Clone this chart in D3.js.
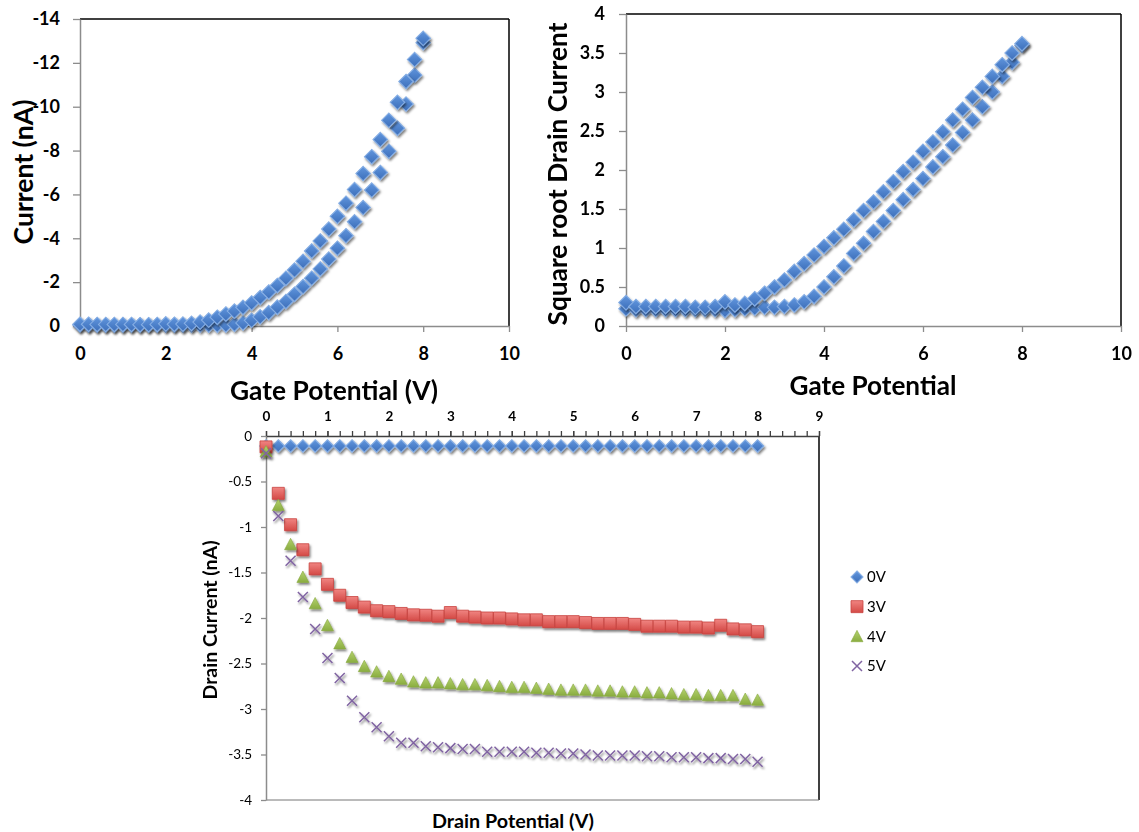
<!DOCTYPE html>
<html>
<head>
<meta charset="utf-8">
<script src="https://cdn.jsdelivr.net/npm/d3@7"></script>
<style>
  html, body { margin: 0; padding: 0; background: #fff; }
  svg { display: block; }
</style>
</head>
<body>
<svg id="chart" width="1139" height="832"></svg>
<script>
// ---------------- DATA ----------------
const gatePotential = [0,0.2,0.4,0.6,0.8,1,1.2,1.4,1.6,1.8,2,2.2,2.4,2.6,2.8,3,3.2,3.4,3.6,3.8,4,4.2,4.4,4.6,4.8,5,5.2,5.4,5.6,5.8,6,6.2,6.4,6.6,6.8,7,7.2,7.4,7.6,7.8,8];

// Top-left: current (nA), two sweep branches
const currentUpper = [-0.08,-0.08,-0.07,-0.07,-0.07,-0.07,-0.07,-0.06,-0.06,-0.07,-0.1,-0.08,-0.09,-0.12,-0.18,-0.27,-0.4,-0.55,-0.68,-0.85,-1.05,-1.3,-1.55,-1.85,-2.18,-2.55,-2.95,-3.42,-3.88,-4.42,-5.0,-5.6,-6.22,-6.95,-7.72,-8.5,-9.38,-10.2,-11.15,-12.15,-13.12];
const currentLower = [-0.05,-0.04,-0.04,-0.04,-0.04,-0.04,-0.04,-0.04,-0.04,-0.04,-0.04,-0.04,-0.04,-0.04,-0.04,-0.04,-0.04,-0.05,-0.08,-0.14,-0.26,-0.42,-0.61,-0.86,-1.12,-1.45,-1.8,-2.18,-2.6,-3.05,-3.55,-4.12,-4.75,-5.4,-6.2,-7.0,-7.97,-9.02,-10.12,-11.44,-12.92];

// Top-right: square root drain current, two sweep branches
const sqrtUpper = [0.30,0.25,0.25,0.25,0.25,0.25,0.25,0.24,0.24,0.25,0.31,0.27,0.29,0.35,0.42,0.50,0.59,0.70,0.80,0.91,1.02,1.13,1.24,1.36,1.48,1.59,1.72,1.85,1.98,2.10,2.24,2.36,2.49,2.64,2.78,2.93,3.06,3.20,3.35,3.50,3.62];
const sqrtLower = [0.22,0.21,0.21,0.21,0.21,0.21,0.21,0.21,0.21,0.21,0.20,0.21,0.22,0.23,0.24,0.24,0.25,0.27,0.31,0.38,0.50,0.63,0.77,0.93,1.06,1.21,1.34,1.48,1.62,1.75,1.89,2.04,2.17,2.32,2.48,2.64,2.81,3.00,3.20,3.38,3.60];

// Bottom: drain current (nA) vs drain potential for gate voltages
const drainPotential = [0,0.2,0.4,0.6,0.8,1,1.2,1.4,1.6,1.8,2,2.2,2.4,2.6,2.8,3,3.2,3.4,3.6,3.8,4,4.2,4.4,4.6,4.8,5,5.2,5.4,5.6,5.8,6,6.2,6.4,6.6,6.8,7,7.2,7.4,7.6,7.8,8];
const seriesNames = ["0V","3V","4V","5V"];
const drain0V = [-0.11,-0.11,-0.11,-0.11,-0.11,-0.11,-0.11,-0.11,-0.11,-0.11,-0.11,-0.11,-0.11,-0.11,-0.11,-0.11,-0.11,-0.11,-0.11,-0.11,-0.11,-0.11,-0.11,-0.11,-0.11,-0.11,-0.11,-0.11,-0.11,-0.11,-0.11,-0.11,-0.11,-0.11,-0.11,-0.11,-0.11,-0.11,-0.11,-0.11,-0.11];
const drain3V = [-0.12,-0.63,-0.975,-1.25,-1.46,-1.63,-1.75,-1.83,-1.88,-1.92,-1.93,-1.95,-1.965,-1.97,-1.98,-1.94,-1.98,-1.99,-2.0,-2.0,-2.01,-2.02,-2.02,-2.04,-2.04,-2.04,-2.05,-2.06,-2.06,-2.06,-2.07,-2.09,-2.09,-2.09,-2.10,-2.10,-2.11,-2.08,-2.12,-2.13,-2.15];
const drain4V = [-0.17,-0.76,-1.19,-1.55,-1.84,-2.08,-2.28,-2.43,-2.53,-2.59,-2.64,-2.67,-2.70,-2.71,-2.71,-2.72,-2.73,-2.73,-2.74,-2.75,-2.76,-2.76,-2.77,-2.78,-2.79,-2.79,-2.79,-2.80,-2.80,-2.81,-2.81,-2.82,-2.82,-2.83,-2.84,-2.84,-2.85,-2.85,-2.85,-2.89,-2.90];
const drain5V = [-0.19,-0.88,-1.37,-1.77,-2.12,-2.44,-2.66,-2.91,-3.09,-3.20,-3.30,-3.37,-3.37,-3.41,-3.42,-3.43,-3.44,-3.44,-3.47,-3.47,-3.47,-3.47,-3.48,-3.48,-3.49,-3.49,-3.50,-3.51,-3.51,-3.51,-3.51,-3.52,-3.52,-3.53,-3.53,-3.53,-3.54,-3.54,-3.55,-3.55,-3.58];

// Tick labels
const currentTicks = [0,-2,-4,-6,-8,-10,-12,-14];
const gateTicks = [0,2,4,6,8,10];
const sqrtTicks = [0,0.5,1,1.5,2,2.5,3,3.5,4];
const drainXTicks = [0,1,2,3,4,5,6,7,8,9];
const drainYTicks = [0,-0.5,-1,-1.5,-2,-2.5,-3,-3.5,-4];

// ---------------- DRAWING ----------------
const FONT = "Lato, 'Open Sans', 'Noto Sans', sans-serif";
const svg = d3.select("#chart");
svg.append("rect").attr("width",1139).attr("height",832).attr("fill","#fff");

const defs = svg.append("defs");
const f = defs.append("filter").attr("id","shadow").attr("x","-60%").attr("y","-60%").attr("width","220%").attr("height","220%");
f.append("feDropShadow").attr("dx",1.3).attr("dy",2).attr("stdDeviation",1.2).attr("flood-color","#000").attr("flood-opacity",0.5);

function grad(id, c1, c2) {
  const g = defs.append("linearGradient").attr("id",id).attr("x1",0).attr("y1",0).attr("x2",0).attr("y2",1);
  g.append("stop").attr("offset","0%").attr("stop-color",c1);
  g.append("stop").attr("offset","100%").attr("stop-color",c2);
}
grad("gBlue","#6196de","#3c6eb9");
grad("gRed","#f08481","#d44a46");
grad("gGreen","#b4d26e","#8aad40");

const diamondType = { draw(ctx, size) { const r = Math.sqrt(size)/2; ctx.moveTo(0,-r); ctx.lineTo(r,0); ctx.lineTo(0,r); ctx.lineTo(-r,0); ctx.closePath(); } };
const squareType = { draw(ctx, size) { const r = Math.sqrt(size)/2; ctx.rect(-r,-r,2*r,2*r); } };
const triType = { draw(ctx, size) { const r = Math.sqrt(size)/2; ctx.moveTo(0,-r); ctx.lineTo(r,r*0.9); ctx.lineTo(-r,r*0.9); ctx.closePath(); } };
const crossType = { draw(ctx, size) { const r = Math.sqrt(size)/2; ctx.moveTo(-r,-r); ctx.lineTo(r,r); ctx.moveTo(r,-r); ctx.lineTo(-r,r); } };

const styles = {
  blue:   { type: diamondType, fill: "url(#gBlue)", stroke: "#86aee4", sw: 1.1 },
  red:    { type: squareType, fill: "url(#gRed)", stroke: "#c8423f", sw: 0.8 },
  green:  { type: triType, fill: "url(#gGreen)", stroke: "#86a83e", sw: 0.6 },
  purple: { type: crossType, fill: "none", stroke: "#8064a2", sw: 1.5 }
};

function drawPoints(g, xs, ys, x, y, st, w) {
  const sym = d3.symbol().type(st.type).size(w*w);
  g.append("g").attr("filter","url(#shadow)")
    .selectAll("path").data(xs.map((v,i)=>[v, ys[i]])).join("path")
    .attr("transform", d => `translate(${x(d[0])},${y(d[1])})`)
    .attr("d", sym)
    .attr("fill", st.fill).attr("stroke", st.stroke).attr("stroke-width", st.sw);
}

function fitText(sel, target) {
  const n = sel.node();
  const len = n.getComputedTextLength();
  const fs = parseFloat(sel.attr("font-size"));
  sel.attr("font-size", (fs*target/len).toFixed(2));
}

function styleAxis(g, color, fontSize, weight) {
  g.selectAll(".domain").attr("stroke", color).attr("stroke-width", 1.5);
  g.selectAll(".tick line").attr("stroke", color).attr("stroke-width", 1.3);
  g.selectAll(".tick text").attr("font-family", FONT).attr("font-size", fontSize).attr("font-weight", weight).attr("fill", "#000");
}

const AX = "#8c8c8c";

// ---- Chart 1 ----
(function(){
  const x = d3.scaleLinear().domain([0,10]).range([80,509]);
  const y = d3.scaleLinear().domain([0,-14]).range([326,19]);
  const g = svg.append("g");
  g.append("line").attr("x1",80).attr("x2",509).attr("y1",19).attr("y2",19).attr("stroke","#000").attr("stroke-width",1.5);
  g.append("line").attr("x1",509).attr("x2",509).attr("y1",19).attr("y2",326).attr("stroke","#000").attr("stroke-width",1.5);
  const ya = g.append("g").attr("transform","translate(80,0)")
    .call(d3.axisLeft(y).tickValues(currentTicks).tickFormat(d3.format("d")).tickSize(7).tickSizeOuter(0).tickPadding(13));
  styleAxis(ya, AX, 18, "bold");
  ya.selectAll(".tick text").text(d => d === 0 ? "0" : String(d).replace("−","-"));
  const xa = g.append("g").attr("transform","translate(0,326)")
    .call(d3.axisBottom(x).tickValues(gateTicks).tickFormat(d3.format("d")).tickSize(6).tickSizeOuter(0).tickPadding(15));
  styleAxis(xa, AX, 18, "bold");
  drawPoints(g, gatePotential, currentLower, x, y, styles.blue, 14.5);
  drawPoints(g, gatePotential, currentUpper, x, y, styles.blue, 14.5);
  const t1 = g.append("text").text("Current (nA)").attr("font-family",FONT).attr("font-weight","bold").attr("font-size",24)
    .attr("text-anchor","middle").attr("transform","translate(33,172) rotate(-90)");
  fitText(t1, 145);
  const t2 = g.append("text").text("Gate Potential (V)").attr("font-family",FONT).attr("font-weight","bold").attr("font-size",24)
    .attr("text-anchor","middle").attr("x",334).attr("y",400);
  fitText(t2, 208);
})();

// ---- Chart 2 ----
(function(){
  const x = d3.scaleLinear().domain([0,10]).range([626,1121]);
  const y = d3.scaleLinear().domain([0,4]).range([326,14]);
  const g = svg.append("g");
  g.append("line").attr("x1",626).attr("x2",1121).attr("y1",14).attr("y2",14).attr("stroke","#000").attr("stroke-width",1.5);
  g.append("line").attr("x1",1121).attr("x2",1121).attr("y1",14).attr("y2",326).attr("stroke","#000").attr("stroke-width",1.5);
  const ya = g.append("g").attr("transform","translate(626,0)")
    .call(d3.axisLeft(y).tickValues(sqrtTicks).tickFormat(d => String(d)).tickSize(7).tickSizeOuter(0).tickPadding(14));
  styleAxis(ya, AX, 18, "bold");
  const xa = g.append("g").attr("transform","translate(0,326)")
    .call(d3.axisBottom(x).tickValues(gateTicks).tickFormat(d3.format("d")).tickSize(6).tickSizeOuter(0).tickPadding(15));
  styleAxis(xa, AX, 18, "bold");
  drawPoints(g, gatePotential, sqrtLower, x, y, styles.blue, 14.5);
  drawPoints(g, gatePotential, sqrtUpper, x, y, styles.blue, 14.5);
  const t1 = g.append("text").text("Square root Drain Current").attr("font-family",FONT).attr("font-weight","bold").attr("font-size",24)
    .attr("text-anchor","middle").attr("transform","translate(567,174) rotate(-90)");
  fitText(t1, 303);
  const t2 = g.append("text").text("Gate Potential").attr("font-family",FONT).attr("font-weight","bold").attr("font-size",24)
    .attr("text-anchor","middle").attr("x",873).attr("y",395);
  fitText(t2, 167);
})();

// ---- Chart 3 ----
(function(){
  const x = d3.scaleLinear().domain([0,9]).range([266,819]);
  const y = d3.scaleLinear().domain([0,-4]).range([436,800]);
  const g = svg.append("g");
  g.append("line").attr("x1",819).attr("x2",819).attr("y1",436).attr("y2",800).attr("stroke","#000").attr("stroke-width",1.5);
  g.append("line").attr("x1",266).attr("x2",819).attr("y1",800).attr("y2",800).attr("stroke","#777").attr("stroke-width",1);
  const ya = g.append("g").attr("transform","translate(266,0)")
    .call(d3.axisLeft(y).tickValues(drainYTicks).tickFormat(d => String(d)).tickSize(5).tickSizeOuter(0).tickPadding(9));
  styleAxis(ya, AX, 13.5, "normal");
  g.append("g").attr("transform","translate(0,436)")
    .call(d3.axisTop(x).ticks(45).tickFormat("").tickSize(5).tickSizeOuter(0))
    .call(a => { a.selectAll(".domain").remove(); a.selectAll(".tick line").attr("stroke","#404040").attr("stroke-width",1.3); });
  const xa = g.append("g").attr("transform","translate(0,436)")
    .call(d3.axisTop(x).tickValues(drainXTicks).tickFormat(d3.format("d")).tickSize(5).tickSizeOuter(0).tickPadding(10));
  styleAxis(xa, "#404040", 13.5, "bold");
  drawPoints(g, drainPotential, drain0V, x, y, styles.blue, 12.5);
  drawPoints(g, drainPotential, drain3V, x, y, styles.red, 12);
  drawPoints(g, drainPotential, drain4V, x, y, styles.green, 12);
  drawPoints(g, drainPotential, drain5V, x, y, styles.purple, 10);
  const t1 = g.append("text").text("Drain Current (nA)").attr("font-family",FONT).attr("font-weight","bold").attr("font-size",16)
    .attr("text-anchor","middle").attr("transform","translate(217,620) rotate(-90)");
  fitText(t1, 159);
  const t2 = g.append("text").text("Drain Potential (V)").attr("font-family",FONT).attr("font-weight","bold").attr("font-size",16)
    .attr("text-anchor","middle").attr("x",513).attr("y",828);
  fitText(t2, 162);

  const legStyles = [styles.blue, styles.red, styles.green, styles.purple];
  const legSizes = [12, 12, 12, 10];
  const lg = g.append("g");
  const rowY = d3.scalePoint().domain(seriesNames).range([577, 666]);
  seriesNames.forEach((name, i) => {
    const st = legStyles[i];
    lg.append("path").attr("transform", `translate(857,${rowY(name)})`)
      .attr("d", d3.symbol().type(st.type).size(legSizes[i]*legSizes[i]))
      .attr("fill", st.fill).attr("stroke", st.stroke).attr("stroke-width", st.sw);
    lg.append("text").text(name).attr("x", 867).attr("y", rowY(name)).attr("dy","0.36em")
      .attr("font-family", FONT).attr("font-size", 15).attr("fill","#000");
  });
})();
</script>
</body>
</html>
